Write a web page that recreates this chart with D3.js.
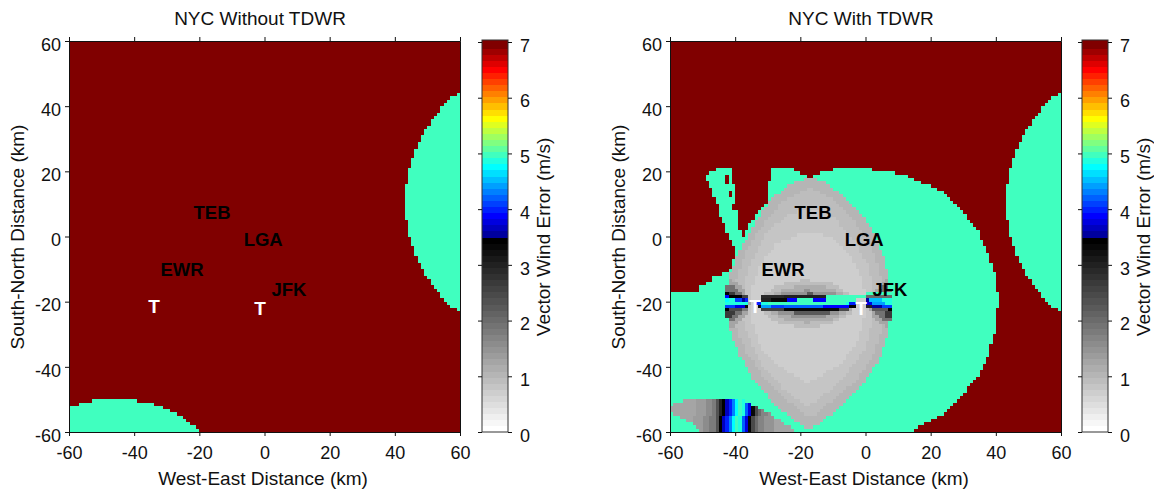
<!DOCTYPE html>
<html><head><meta charset="utf-8">
<script src="https://cdn.jsdelivr.net/npm/d3@7/dist/d3.min.js"></script>
<style>
html,body{margin:0;padding:0;background:#fff}
svg{display:block}
text{font-family:"Liberation Sans",Arial,sans-serif;fill:#111}
</style></head><body>
<div id="chart"></div>
<script>
// ---------- data (km, m/s) ----------
const axisTicks = [-60,-40,-20,0,20,40,60];
const colorTicks = [0,1,2,3,4,5,6,7];
const titles = ["NYC Without TDWR","NYC With TDWR"];
const xLabel = "West-East Distance (km)";
const yLabel = "South-North Distance (km)";
const barLabel = "Vector Wind Error (m/s)";
const airports = [["TEB",-16.1,7.2],["LGA",-0.4,-1],["EWR",-25.3,-10.2],["JFK",7.5,-16.4]];
const radars = [["T",-33.9,-21.3],["T",-1.4,-21.9]];

const V_BG = 7, V_MINT = 5;
const eastCoverage = [[61,45],[60,44.5],[56,41.5],[51.5,36],[48.3,31],[45.9,25.5],[44.3,20.5],[43.4,15.5],[43.1,10.5],[43.4,5.5],[44.3,.5],[45.9,-4.5],[48.3,-10],[51.5,-15],[56,-20.5],[60,-23.5],[61,-24]];
const southCoverage = [[-61,-52.5],[-60,-52.2],[-55,-51],[-50,-50],[-46,-49.8],[-40,-50.2],[-35,-51.3],[-30,-53],[-25,-55.5],[-22,-58],[-19,-60],[-19,-61],[-61,-61]];
const wedge = [[-49.2,18.9],[-46.9,20.4],[-43.1,21.25],[-41,21.25],[-40.5,16.3],[-40,10.2],[-39,5.1],[-38.3,.5],[-38.3,-3.6],[-40,-7.2],[-40.5,-2.6],[-41.7,-.5],[-43.1,2.5],[-44.6,6.6],[-45.6,10.2],[-47.2,13.8],[-48.7,17.4]];
const wedgeHoles = [[[-43.1,18.9],[-41.9,18.9],[-41.9,16.3],[-43.1,16.3]],[[-41.9,13.8],[-41,13.8],[-41,12.2],[-41.9,12.2]],[[-41,10.2],[-40,10.2],[-40,8.2],[-41,8.2]]];
const tdwrCoverage = [[-29.2,20.4],[-28.2,21.25],[-23.1,21.25],[-20,19.6],[-17,18.2],[-15.4,18.9],[-11.8,20.2],[-4.6,21.2],[2.6,20.4],[10.8,19.2],[17.9,16.3],[24.1,13.3],[29.2,8.2],[34.4,2],[37.9,-6.2],[40,-12.3],[40.8,-19.4],[40,-27.6],[37.9,-35.8],[34.4,-43],[29.2,-49.1],[24.1,-54.2],[15.9,-58.8],[13.3,-61],[-61,-61],[-61,-17],[-55.9,-17.2],[-50.8,-16.4],[-51,-14.9],[-46.7,-14.1],[-46.7,-12.3],[-42,-10.8],[-40,-6.2],[-38.5,-3.1],[-37.9,-.5],[-35.9,3],[-33.3,7.1],[-30.8,9.2],[-30,12.2]];
const lens = [[-16.9,18.2],[-11.8,16.3],[-6.7,12.2],[-1.5,7.1],[2.6,1],[5.6,-6.2],[7.2,-13.3],[8,-19.4],[8,-23.5],[6.7,-30.7],[3.6,-38.9],[-1.5,-46],[-8.7,-53.2],[-14.9,-57.8],[-17.4,-59.3],[-20,-57.8],[-27.2,-52.2],[-34.4,-44],[-39,-35.8],[-41.5,-28.7],[-43.1,-22.5],[-43.1,-17.4],[-41.5,-10.8],[-38.5,-4.1],[-33.3,5.1],[-29.2,11.2],[-23.1,16.3]];
const V_LENS = 1.03;
const lensBandValues = [.92,.8,.7,.7];
const lensBands = [
 [[-16.9,15.1],[-9.8,11.2],[-2.6,3.6],[2.6,-5.1],[5.1,-14.3],[5.6,-20.7],[5.1,-27.6],[2.6,-35.8],[-2.6,-44],[-9.8,-50.1],[-16.9,-55.8],[-24.1,-50.1],[-31.3,-43],[-37,-34.8],[-40,-26.6],[-40.7,-20.7],[-40,-14.3],[-37,-5.1],[-32.3,2.5],[-25.1,11.2]],
 [[-17.4,8.7],[-9.8,6.1],[-3.6,-1.05],[1,-9.2],[2.6,-17.4],[2.6,-24.6],[-.5,-34.8],[-5.6,-42],[-11.8,-48],[-18,-52.2],[-25.1,-47],[-31.3,-39.9],[-35.4,-31.7],[-38,-24.6],[-38,-17.4],[-35.4,-8.2],[-30.3,1],[-24.1,6.6]],
 [[-18,1.5],[-10.8,0],[-5.1,-5.1],[-1,-12.8],[0,-18.4],[0,-23.6],[-3.1,-33.8],[-8.7,-39.9],[-18,-45],[-26.2,-39.9],[-32.3,-33.8],[-35.4,-24.6],[-35.4,-18.4],[-32.8,-9.2],[-27.2,-2.1]],
 [[-18,-4.1],[-11.8,-5.1],[-6.7,-9.2],[-2.6,-16.4],[-2.6,-24.6],[-7.7,-33.8],[-18,-39.9],[-27.2,-33.8],[-33.3,-24.6],[-33.3,-16.4],[-28.2,-8.2]]
];
const crescentValues = [.92,1.14,1.5,2.2,.92,1.14,1.5,2.2,1.3,1.9,2.7,1.3,1.9,2.7,1.3,1.9,2.7,1.3,1.9,2.7];
const crescents = [
 [[-32.3,-18.5],[-27.2,-15],[-19,-13.3],[-10.8,-14.3],[-2.6,-18.5]],
 [[-31.3,-19],[-25.1,-16],[-18,-14.8],[-10.8,-15.6],[-3.6,-19]],
 [[-30.8,-19],[-24.1,-17],[-18,-16.4],[-10.8,-17],[-4.6,-19]],
 [[-30.3,-19],[-23.1,-18],[-17,-17.4],[-9.8,-18],[-5.1,-19]],
 [[-32.3,-22.9],[-27.2,-26.4],[-19,-28.1],[-10.8,-27.1],[-2.6,-22.9]],
 [[-31.3,-22.4],[-25.1,-25.4],[-18,-26.6],[-10.8,-25.8],[-3.6,-22.4]],
 [[-30.8,-22.4],[-24.1,-24.4],[-18,-25],[-10.8,-24.4],[-4.6,-22.4]],
 [[-30.3,-22.4],[-23.1,-23.4],[-17,-24],[-9.8,-23.4],[-5.1,-22.4]],
 [[-43.5,-12],[-39.5,-14.3],[-37,-16.4],[-35.4,-20.7],[-43.5,-20.7]],
 [[-43.5,-15],[-40,-15.5],[-38,-17.4],[-37,-20.7],[-43.5,-20.7]],
 [[-43.5,-16.4],[-40.5,-17],[-38.5,-20.7],[-43.5,-20.7]],
 [[-43.5,-29.4],[-39.5,-27.1],[-37,-25],[-35.4,-20.7],[-43.5,-20.7]],
 [[-43.5,-26.4],[-40,-25.9],[-38,-24],[-37,-20.7],[-43.5,-20.7]],
 [[-43.5,-25],[-40.5,-24.4],[-38.5,-20.7],[-43.5,-20.7]],
 [[8.5,-12],[5,-14.3],[2.6,-16.4],[.5,-20.7],[8.5,-20.7]],
 [[8.5,-15],[5,-15.5],[3.5,-17.4],[2,-20.7],[8.5,-20.7]],
 [[8.5,-16.4],[6,-17],[4,-20.7],[8.5,-20.7]],
 [[8.5,-29.4],[5,-27.1],[2.6,-25],[.5,-20.7],[8.5,-20.7]],
 [[8.5,-26.4],[5,-25.9],[3.5,-24],[2,-20.7],[8.5,-20.7]],
 [[8.5,-25],[6,-24.4],[4,-20.7],[8.5,-20.7]]
];
// baseline stripe: [row centre y, x0, x1, value]
const baselineRows = [
 [-17.5,-43,-42,3.4],[-17.5,0,8,5],
 [-18.5,-43,-41.5,3.9],[-18.5,-41.5,-38,3.4],[-18.5,-38,-36,2.6],[-18.5,-32,-25,2.9],[-18.5,-25,-12,3],[-18.5,-12,0,5],[-18.5,0,8,2],
 [-19.5,-43,-41.5,4.8],[-19.5,-41.5,-40,4.85],[-19.5,-40,-38,4.1],[-19.5,-38,-37.4,3.6],[-19.5,-37.4,-36,4],[-19.5,-32,-29,3],[-19.5,-29,-24,3.35],[-19.5,-24,-21,3.9],[-19.5,-21,-16,5],[-19.5,-16,-12,3.9],[-19.5,-12,-3,5],[-19.5,0,1.5,3.5],[-19.5,1.5,5,4.5],[-19.5,5,8,4.85],
 [-20.5,-43,-36,4.85],[-20.5,-33.5,-32,4],[-20.5,-32,-30,4.85],[-20.5,-30,-6,5],[-20.5,-6,-5,4.85],[-20.5,-5,-3,4],[-20.5,0,2,3.8],[-20.5,2,5.6,4.4],[-20.5,5.6,8,4.85],
 [-21.5,-43,-40,4.1],[-21.5,-40,-37.4,3.8],[-21.5,-37.4,-36,3.3],[-21.5,-33,-32,3.3],[-21.5,-32,-29,4.4],[-21.5,-29,-25,4.1],[-21.5,-25,-13,4.25],[-21.5,-13,-5,3.9],[-21.5,-5,-3,3.4],[-21.5,0,2,3],[-21.5,2,5,3.5],[-21.5,5,8,4.1],
 [-22.5,-43,-42,3.4],[-22.5,-42,-38,2.5],[-22.5,-38,-36,1.8],[-22.5,-32,-25,2.6],[-22.5,-25,-8,3.35],[-22.5,-8,-5,2.5],[-22.5,2,7,2.2],[-22.5,7,8,3.4]
];
// south-west fan: outline, then tilted columns [bottom x0, bottom x1, value]
const fanOutline = [[-61,-51.9],[-56.9,-51],[-53.3,-49.6],[-43.6,-49.6],[-35.4,-50.8],[-34.9,-52],[-32.3,-52.7],[-28.2,-55.2],[-24.1,-57.8],[-20.5,-61],[-49,-61],[-52.8,-57.8],[-56.9,-55.8],[-59.8,-53.7],[-61,-53.2]];
const V_FAN = 1.25;
const fanColumns = [[-53,-50,1.4],[-50,-48,1.6],[-48,-46.5,1.85],[-46.5,-45.5,2.3],[-45.5,-45,3],[-45,-44,3.4],[-44,-43,3.7],[-43,-42,4],[-42,-41,4.3],[-41,-40,4.8],[-40,-39,5],[-39,-38,4.85],[-38,-37,4.2],[-37,-36,3.8],[-36,-35,3.3],[-35,-34,2.5],[-34,-33,2],[-33,-31,1.7],[-31,-28,1.45],[-28,-23,1.25]];
const fanTilt = 1; // km the columns lean to the east going north

// ---------- colour map: 32 greys then a 32-level jet ----------
const N = 64, VMAX = 7;
const jetR = d3.scaleLinear().domain([12,20,28,32]).range([0,1,1,.5]).clamp(true);
const jetG = d3.scaleLinear().domain([4,12,20,28]).range([0,1,1,0]).clamp(true);
const jetB = d3.scaleLinear().domain([1,4,12,20]).range([.625,1,1,0]).clamp(true);
function levelColor(i){
  if(i<32){const g=Math.round(255*(31-i)/31);return d3.rgb(g,g,g).formatHex();}
  const k=i-31;
  return d3.rgb(Math.round(255*jetR(k)),Math.round(255*jetG(k)),Math.round(255*jetB(k))).formatHex();
}
const toLevel = v => Math.min(N-1,Math.max(0,Math.floor(v/VMAX*N)));
const colorOf = v => levelColor(toLevel(v));

// ---------- field assembly ----------
const inP = (poly,x,y) => d3.polygonContains(poly,[x,y]);
function fieldWithout(x,y){
  if(inP(eastCoverage,x,y)||inP(southCoverage,x,y)) return V_MINT;
  return V_BG;
}
function fieldWith(x,y){
  let v = fieldWithout(x,y);
  if(inP(wedge,x,y) && !wedgeHoles.some(h=>inP(h,x,y))) v=V_MINT;
  if(inP(tdwrCoverage,x,y)) v=V_MINT;
  if(inP(fanOutline,x,y)){
    v=V_FAN;
    const t=(y+60)/10.4*fanTilt;
    fanColumns.forEach(c=>{ if(x>=c[0]+t && x<c[1]+t) v=c[2]; });
  }
  if(inP(lens,x,y)){
    v=V_LENS;
    lensBands.forEach((b,i)=>{ if(inP(b,x,y)) v=lensBandValues[i]; });
    crescents.forEach((b,i)=>{ if(inP(b,x,y)) v=crescentValues[i]; });
  }
  baselineRows.forEach(r=>{ if(Math.abs(y-r[0])<.01 && x>=r[1] && x<r[2]) v=r[3]; });
  return v;
}

// ---------- drawing ----------
const svg = d3.select("#chart").append("svg").attr("width",1154).attr("height",489);
const range = d3.range(-60,60);
function panel(left,title,field,barLeft){
  const x = d3.scaleLinear().domain([-60,60]).range([left,left+391]);
  const y = d3.scaleLinear().domain([-60,60]).range([432,41]);
  const g = svg.append("g");
  range.forEach(iy=>{
    let start=range[0], cur=colorOf(field(start+.5,iy+.5));
    for(let i=1;i<=range.length;i++){
      const ix=range[0]+i;
      const c= i<range.length ? colorOf(field(ix+.5,iy+.5)) : null;
      if(c!==cur){
        g.append("rect").attr("x",x(start)).attr("y",y(iy+1))
         .attr("width",x(ix)-x(start)).attr("height",y(iy)-y(iy+1))
         .attr("fill",cur).attr("shape-rendering","crispEdges");
        start=ix;cur=c;
      }
    }
  });
  const axB=d3.axisBottom(x).tickValues(axisTicks).tickSize(4).tickPadding(10).tickFormat(d=>String(d));
  const axT=d3.axisTop(x).tickValues(axisTicks).tickSize(4).tickFormat("");
  const axL=d3.axisLeft(y).tickValues(axisTicks).tickSize(4).tickPadding(4).tickFormat(d=>String(d));
  const axR=d3.axisRight(y).tickValues([]).tickSize(0);
  [[axB,0,432],[axT,0,41],[axL,left,0],[axR,left+391,0]].forEach((a,k)=>{
    const ag=svg.append("g").attr("transform",`translate(${a[1]},${a[2]})`).call(a[0]);
    ag.selectAll("path,line").attr("stroke","#111").attr("stroke-width",1);
    ag.selectAll("text").attr("font-size",18).attr("fill","#111").style("font-family",'"Liberation Sans"');
    if(k===2) ag.selectAll("text").attr("dy","0.68em").attr("y",-3);
  });
  svg.selectAll(null).data(airports).enter().append("text")
    .attr("x",d=>x(d[1])).attr("y",d=>y(d[2])+6).attr("text-anchor","middle")
    .attr("font-size",18.5).attr("font-weight","bold").style("fill","#000").text(d=>d[0]);
  svg.selectAll(null).data(radars).enter().append("text")
    .attr("x",d=>x(d[1])).attr("y",d=>y(d[2])+7).attr("text-anchor","middle")
    .attr("font-size",19).attr("font-weight","bold").style("fill","#fff").text(d=>d[0]);
  svg.append("text").attr("x",left+191).attr("y",25).attr("text-anchor","middle").attr("font-size",19).text(title);
  svg.append("text").attr("x",left+194).attr("y",485).attr("text-anchor","middle").attr("font-size",19).text(xLabel);
  svg.append("text").attr("transform",`translate(${left-45},237) rotate(-90)`).attr("text-anchor","middle").attr("font-size",19).text(yLabel);
  // colour bar
  const c = d3.scaleLinear().domain([0,VMAX]).range([432,42]);
  const bw=26;
  d3.range(N).forEach(i=>{
    const v0=i/N*VMAX, v1=(i+1)/N*VMAX;
    svg.append("rect").attr("x",barLeft).attr("y",c(v1)-(i===N-1?2:0)).attr("width",bw)
      .attr("height",c(v0)-c(v1)+(i===N-1?2:0)+.5).attr("fill",levelColor(i)).attr("shape-rendering","crispEdges");
  });
  svg.append("rect").attr("x",barLeft).attr("y",40).attr("width",bw).attr("height",392).attr("fill","none").attr("stroke","#333");
  const cL=d3.axisLeft(c).tickValues(colorTicks).tickSize(4).tickFormat("");
  const cR=d3.axisRight(c).tickValues(colorTicks).tickSize(4).tickPadding(8).tickFormat(d3.format("d"));
  [[cL,barLeft],[cR,barLeft+bw]].forEach((a,k)=>{
    const ag=svg.append("g").attr("transform",`translate(${a[1]},0)`).call(a[0]);
    ag.select("path").remove();
    ag.selectAll("line").attr("stroke","#111");
    ag.selectAll("text").attr("font-size",18).attr("fill","#111").style("font-family",'"Liberation Sans"');
    if(k===1) ag.selectAll("text").attr("dy","0.68em").attr("y",-3);
  });
  svg.append("text").attr("transform",`translate(${barLeft+68},237) rotate(-90)`).attr("text-anchor","middle").attr("font-size",19).text(barLabel);
}
panel(69,titles[0],fieldWithout,482);
panel(670,titles[1],fieldWith,1082);
</script>
</body></html>
